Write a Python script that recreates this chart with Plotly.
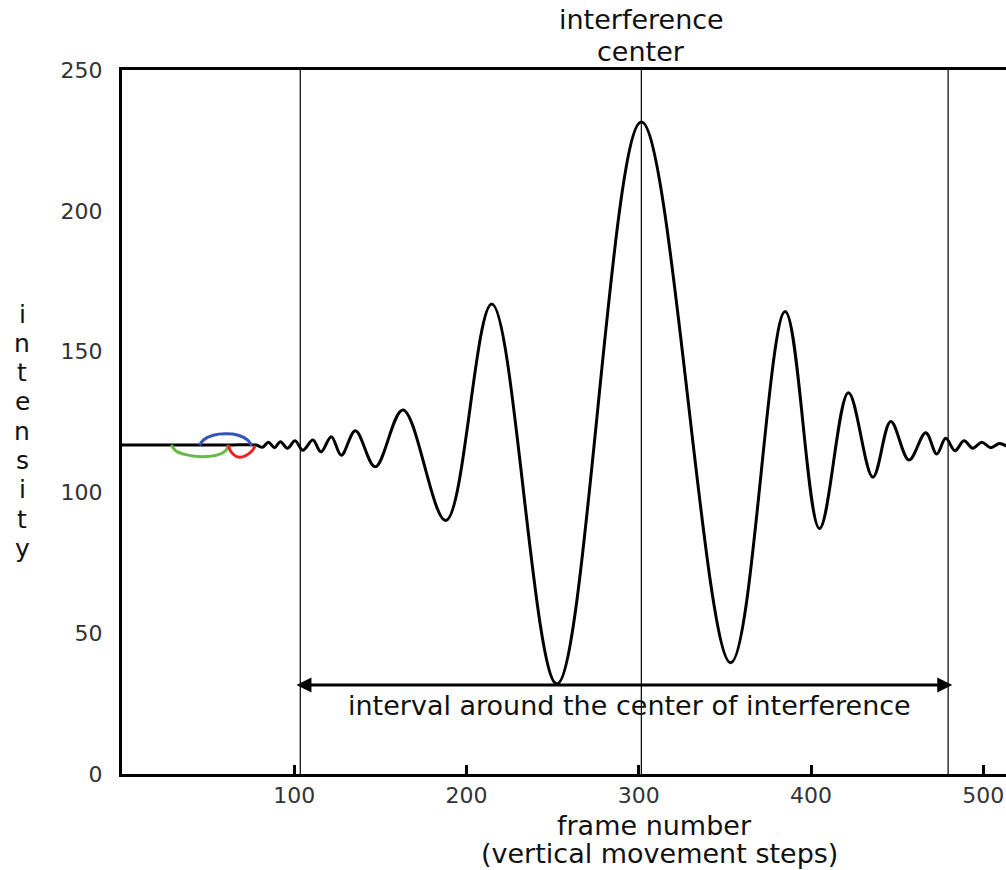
import plotly.graph_objects as go

# ---- data ----
frame = [0, 28, 45, 62, 78, 81.5, 85, 88.5, 92, 96, 100.5, 105, 110.8, 115.5, 121.5, 127.3,
         135.5, 147, 163.1, 188, 214.7, 252.5, 301.5, 353.4, 385, 404.9, 421.7,
         435.9, 446.3, 456.9, 466.6, 473, 478.2, 483.6, 488.8, 493.9, 499.1, 504.3, 509.5, 514]
intensity = [116.8, 116.8, 116.8, 116.8, 116.8, 116.0, 117.8, 115.9, 118.0, 115.7, 118.3, 115.0,
             118.6, 114.4, 119.8, 113.2, 121.9, 109.1, 129.3, 90, 166.9, 32, 231.5, 39.5,
             164.2, 87.2, 135.4, 105.4, 125.2, 111.5, 121.2, 113.6, 119.2, 114.8, 118.3,
             115.7, 117.8, 115.9, 117.4, 116.3]

green_x = [28.6, 31.0, 37, 46.4, 56, 60.3, 61.9]
green_y = [116.8, 114.9, 113.4, 112.7, 113.4, 114.9, 116.8]
blue_x = [45, 47.5, 53, 60, 67.5, 73, 75.4]
blue_y = [116.8, 118.7, 120.3, 120.8, 120.3, 118.6, 116.6]
red_x = [61.9, 63.2, 68.3, 74.8, 77.4]
red_y = [116.8, 114.5, 112.5, 114.3, 116.6]

marker_frames = [103.5, 301.5, 479.6]   # vertical reference lines
interval_start, interval_end, interval_level = 100.4, 482.0, 31.6
x_ticks = [100, 200, 300, 400, 500]
y_ticks = [0, 50, 100, 150, 200, 250]
y_label = "intensity"

FONT = "DejaVu Sans"
BIG = 27

# plot-area geometry in pixels (used only to place layout text)
L, T, W, H = 122, 70, 884, 704
def px(xp):
    return (xp - L) / W
def py(yp):
    return 1 - (yp - T) / H

fig = go.Figure()
fig.add_trace(go.Scatter(x=frame, y=intensity, mode="lines",
                         line=dict(color="black", width=3, shape="spline", smoothing=1.0),
                         hoverinfo="skip", showlegend=False))
for xs, ys, col in [(green_x, green_y, "#66bb44"), (blue_x, blue_y, "#3355bb"),
                    (red_x, red_y, "#ee2222")]:
    fig.add_trace(go.Scatter(x=xs, y=ys, mode="lines",
                             line=dict(color=col, width=3, shape="spline"),
                             hoverinfo="skip", showlegend=False))

shapes = [dict(type="line", xref="x", yref="paper", x0=f, x1=f, y0=0, y1=1,
               line=dict(color="black", width=1.2), layer="below") for f in marker_frames]

txt = dict(family=FONT, size=BIG, color="#111")
annotations = [
    dict(x=interval_end, y=interval_level, ax=interval_start, ay=interval_level,
         xref="x", yref="y", axref="x", ayref="y", text="", showarrow=True,
         arrowhead=2, arrowside="end+start", arrowsize=1, arrowwidth=3, arrowcolor="black"),
    dict(x=294.4, y=24.5, xref="x", yref="y", text="interval around the center of interference",
         showarrow=False, font=txt),
    dict(x=marker_frames[1], y=py(20), xref="x", yref="paper", yanchor="middle",
         text="interference", showarrow=False, font=txt),
    dict(x=marker_frames[1], y=py(52), xref="x", yref="paper", yanchor="middle",
         text="center", showarrow=False, font=txt),
    dict(x=px(654), y=py(825), xref="paper", yref="paper", xanchor="center", yanchor="middle",
         text="frame number", showarrow=False, font=txt),
    dict(x=px(659), y=py(853), xref="paper", yref="paper", xanchor="center", yanchor="middle",
         text="(vertical movement steps)", showarrow=False, font=txt),
]
for k, ch in enumerate(y_label):
    annotations.append(dict(x=px(22), y=py(314 + 29.3 * k), xref="paper", yref="paper",
                            xanchor="center", yanchor="middle", text=ch, showarrow=False,
                            font=dict(family=FONT, size=25, color="#111")))

fig.update_layout(
    width=1006, height=870,
    margin=dict(l=L, r=0, t=T, b=870 - T - H),
    paper_bgcolor="white", plot_bgcolor="white",
    shapes=shapes, annotations=annotations,
    xaxis=dict(range=[0, 513.2], showgrid=False, zeroline=False,
               showline=True, linecolor="black", linewidth=3, mirror=True,
               ticks="inside", ticklen=9, tickwidth=2.5, tickcolor="black",
               tickvals=x_ticks, ticktext=[str(v) for v in x_ticks],
               tickfont=dict(family=FONT, size=22, color="#333"), ticklabelstandoff=0),
    yaxis=dict(range=[0, 250], showgrid=False, zeroline=False,
               showline=True, linecolor="black", linewidth=3,
               ticks="", tickvals=y_ticks, ticktext=[str(v) for v in y_ticks],
               tickfont=dict(family=FONT, size=22, color="#333"), ticklabelstandoff=12),
)

fig.write_html("out.html")
